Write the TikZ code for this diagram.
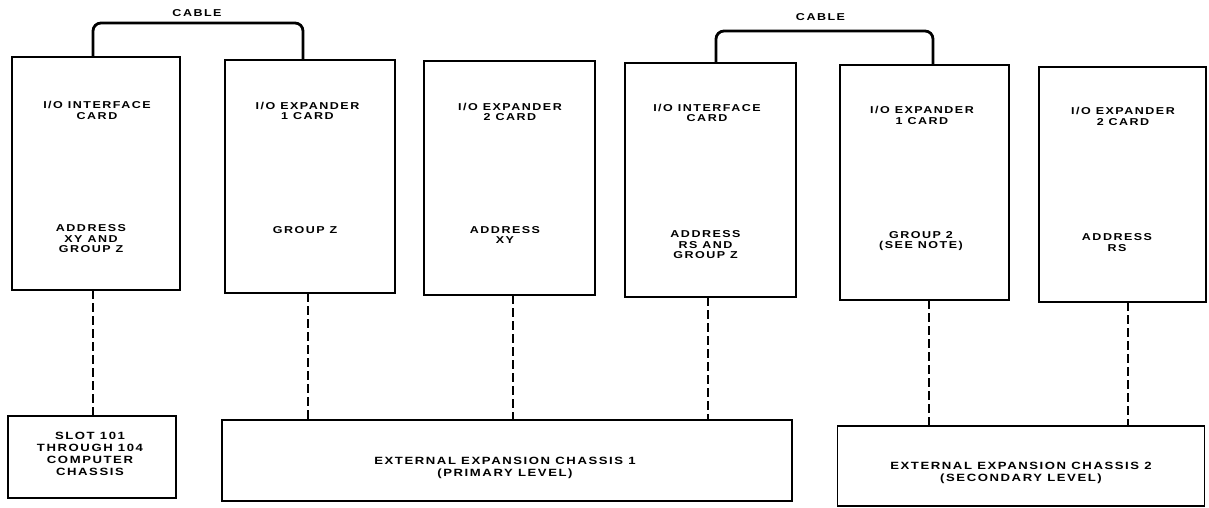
\documentclass[tikz,border=0pt]{standalone}
\usepackage{fontspec}
\newfontfamily\lett{Liberation Sans}[LetterSpace=15,FakeStretch=1.25]
\begin{document}
\begin{tikzpicture}[x=1pt,y=-1pt,
  box/.style={draw, line width=1.9pt, inner sep=0pt, outer sep=0pt},
  lbl/.style={font={\lett\bfseries\fontsize{10}{10.5}\selectfont}, align=center, inner sep=0pt},
  blbl/.style={font={\lett\bfseries\fontsize{10.5}{12}\selectfont}, align=center, inner sep=0pt},
  dashline/.style={line width=1.2pt, dash pattern=on 9pt off 4pt},
  cable/.style={line width=2.8pt, rounded corners=8pt}]
\useasboundingbox (0,0) rectangle (1209,508);
% cards
\node[box, minimum width=168pt, minimum height=233pt] (c1) at (96,173.5) {};
\node[box, minimum width=170pt, minimum height=233pt] (c2) at (310,176.5) {};
\node[box, minimum width=171pt, minimum height=234pt] (c3) at (509.5,178) {};
\node[box, minimum width=171pt, minimum height=234pt] (c4) at (710.5,180) {};
\node[box, minimum width=169pt, minimum height=235pt] (c5) at (924.5,182.5) {};
\node[box, minimum width=167pt, minimum height=235pt] (c6) at (1122.5,184.5) {};
% chassis boxes
\node[box, minimum width=168pt, minimum height=82pt] (slot) at (92,457) {};
\node[box, minimum width=570pt, minimum height=81pt] (e1) at (507,460.5) {};
\node[box, minimum width=367pt, minimum height=80pt] (e2) at (1021,466) {};
% card texts
\node[lbl] (c1t) at (97,110.5) {I/O INTERFACE\\CARD};
\node[lbl] (c1a) at (91,239) {ADDRESS\\XY AND\\GROUP Z};
\node[lbl] (c2t) at (307.5,111) {I/O EXPANDER\\1 CARD};
\node[lbl] (c2a) at (305,230) {GROUP Z};
\node[lbl] (c3t) at (510,112) {I/O EXPANDER\\2 CARD};
\node[lbl] (c3a) at (505,235) {ADDRESS\\XY};
\node[lbl] (c4t) at (707,113) {I/O INTERFACE\\CARD};
\node[lbl] (c4a) at (705.5,245) {ADDRESS\\RS AND\\GROUP Z};
\node[lbl] (c5t) at (922,115.5) {I/O EXPANDER\\1 CARD};
\node[lbl] (c5a) at (921,241) {GROUP 2\\(SEE NOTE)};
\node[lbl] (c6t) at (1123,116.5) {I/O EXPANDER\\2 CARD};
\node[lbl] (c6a) at (1117,242.5) {ADDRESS\\RS};
% chassis texts
\node[blbl] (slott) at (90,453.5) {SLOT 101\\THROUGH 104\\COMPUTER\\CHASSIS};
\node[blbl] (e1t) at (505,467.5) {EXTERNAL EXPANSION CHASSIS 1\\(PRIMARY LEVEL)};
\node[blbl] (e2t) at (1021,473) {EXTERNAL EXPANSION CHASSIS 2\\(SECONDARY LEVEL)};
% cables
\coordinate (cab1) at (200,23);
\coordinate (cab2) at (825,31);
\node[lbl] (cab1l) at (197,13) {CABLE};
\node[lbl] (cab2l) at (820.5,17) {CABLE};
\draw[cable] ([xshift=-3pt]c1.north) |- (cab1) -| ([xshift=-7pt]c2.north);
\draw[cable] ([xshift=5.5pt]c4.north) |- (cab2) -| ([xshift=8.5pt]c5.north);
% dashed links
\draw[dashline] ([xshift=-3pt]c1.south) -- ([xshift=-3pt]c1.south |- slot.north);
\draw[dashline] ([xshift=-2pt]c2.south) -- ([xshift=-2pt]c2.south |- e1.north);
\draw[dashline] ([xshift=3.5pt]c3.south) -- ([xshift=3.5pt]c3.south |- e1.north);
\draw[dashline] ([xshift=-2.5pt]c4.south) -- ([xshift=-2.5pt]c4.south |- e1.north);
\draw[dashline] ([xshift=4.5pt]c5.south) -- ([xshift=4.5pt]c5.south |- e2.north);
\draw[dashline] ([xshift=5.5pt]c6.south) -- ([xshift=5.5pt]c6.south |- e2.north);
\end{tikzpicture}
\end{document}
